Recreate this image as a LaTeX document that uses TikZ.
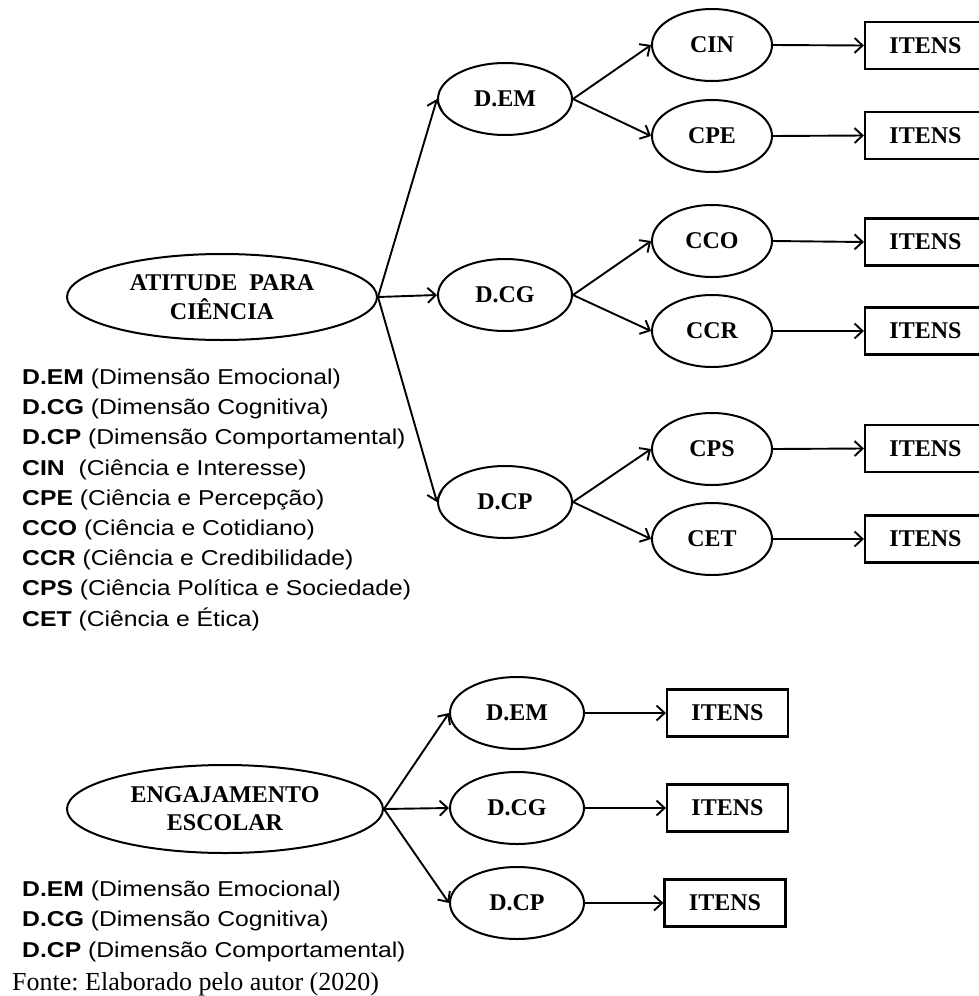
\documentclass[tikz,border=0pt]{standalone}
\usepackage{fontspec}
\setmainfont{Liberation Serif}
\newfontfamily\legfont[FakeStretch=1.15]{Liberation Sans}
\usetikzlibrary{shapes.geometric,arrows.meta}
\frenchspacing
\begin{document}
\begin{tikzpicture}[x=1pt,y=-1pt,
  lbl/.style={font=\fontsize{24}{29}\selectfont\bfseries},
  oval/.style={ellipse, draw, line width=2pt, inner sep=0pt, lbl},
  dim/.style={oval, minimum width=134pt, minimum height=72pt},
  sub/.style={oval, minimum width=120pt, minimum height=72pt},
  itens/.style={rectangle, draw, line width=2.2pt, minimum width=121pt, minimum height=47pt, inner sep=0pt, lbl},
  link/.style={line width=1.9pt, -{Straight Barb[length=8pt,width=15pt]}},
  leg/.style={anchor=base west, inner sep=0pt, font=\legfont\fontsize{21.5}{26}\selectfont},
  src/.style={anchor=base west, inner sep=0pt, font=\fontsize{26}{30}\selectfont}
]
\useasboundingbox (0,0) rectangle (979,996);
\clip (0,0) rectangle (979,996);

% ---------- Atitude para Ciência ----------
\node[oval, minimum width=310pt, minimum height=86pt, align=center] (atitude) at (222,297) {ATITUDE\ \ PARA\\CIÊNCIA};

\node[dim] (dem) at (505,99)  {D.EM};
\node[dim] (dcg) at (505,295) {D.CG};
\node[dim] (dcp) at (505,502) {D.CP};

\node[sub] (cin) at (712,45)  {CIN};
\node[sub] (cpe) at (712,136) {CPE};
\node[sub] (cco) at (712,241) {CCO};
\node[sub] (ccr) at (712,331) {CCR};
\node[sub] (cps) at (712,449) {CPS};
\node[sub] (cet) at (712,539) {CET};

\node[itens] (i1) at (925.5,45.5)  {ITENS};
\node[itens] (i2) at (925.5,135.5) {ITENS};
\node[itens] (i3) at (925.5,242)   {ITENS};
\node[itens] (i4) at (925.5,331)   {ITENS};
\node[itens] (i5) at (925.5,448.5) {ITENS};
\node[itens] (i6) at (925.5,539)   {ITENS};

\draw[link] (atitude.east) -- (dem.west);
\draw[link] (atitude.east) -- (dcg.west);
\draw[link] (atitude.east) -- (dcp.west);

\draw[link] (dem.east) -- (cin.west);
\draw[link] (dem.east) -- (cpe.west);
\draw[link] (dcg.east) -- (cco.west);
\draw[link] (dcg.east) -- (ccr.west);
\draw[link] (dcp.east) -- (cps.west);
\draw[link] (dcp.east) -- (cet.west);

\draw[link] (cin.east) -- (i1.west);
\draw[link] (cpe.east) -- (i2.west);
\draw[link] (cco.east) -- (i3.west);
\draw[link] (ccr.east) -- (i4.west);
\draw[link] (cps.east) -- (i5.west);
\draw[link] (cet.east) -- (i6.west);

% legend of abbreviations
\node[leg] (la1) at (22,384.5) {\textbf{D.EM} (Dimensão Emocional)};
\node[leg] (la2) at (22,414.7) {\textbf{D.CG} (Dimensão Cognitiva)};
\node[leg] (la3) at (22,444.9) {\textbf{D.CP} (Dimensão Comportamental)};
\node[leg] (la4) at (22,475.1) {\textbf{CIN}\ \ (Ciência e Interesse)};
\node[leg] (la5) at (22,505.3) {\textbf{CPE} (Ciência e Percepção)};
\node[leg] (la6) at (22,535.5) {\textbf{CCO} (Ciência e Cotidiano)};
\node[leg] (la7) at (22,565.7) {\textbf{CCR} (Ciência e Credibilidade)};
\node[leg] (la8) at (22,595.9) {\textbf{CPS} (Ciência Política e Sociedade)};
\node[leg] (la9) at (22,626.1) {\textbf{CET} (Ciência e Ética)};

% ---------- Engajamento Escolar ----------
\node[oval, minimum width=316pt, minimum height=88pt, align=center, font=\fontsize{24}{28}\selectfont\bfseries] (engaj) at (225,809) {ENGAJAMENTO\\ESCOLAR};

\node[dim] (edem) at (517,713) {D.EM};
\node[dim] (edcg) at (517,808) {D.CG};
\node[dim] (edcp) at (517,903) {D.CP};

\node[itens] (ei1) at (727.5,713) {ITENS};
\node[itens] (ei2) at (727.5,808) {ITENS};
\node[itens] (ei3) at (725,903)   {ITENS};

\draw[link] (engaj.east) -- (edem.west);
\draw[link] (engaj.east) -- (edcg.west);
\draw[link] (engaj.east) -- (edcp.west);

\draw[link] (edem.east) -- (ei1.west);
\draw[link] (edcg.east) -- (ei2.west);
\draw[link] (edcp.east) -- (ei3.west);

\node[leg] (lb1) at (22,896)   {\textbf{D.EM} (Dimensão Emocional)};
\node[leg] (lb2) at (22,926.5) {\textbf{D.CG} (Dimensão Cognitiva)};
\node[leg] (lb3) at (22,957)   {\textbf{D.CP} (Dimensão Comportamental)};

\node[src] (fonte) at (12,990) {Fonte: Elaborado pelo autor (2020)};
\end{tikzpicture}
\end{document}
